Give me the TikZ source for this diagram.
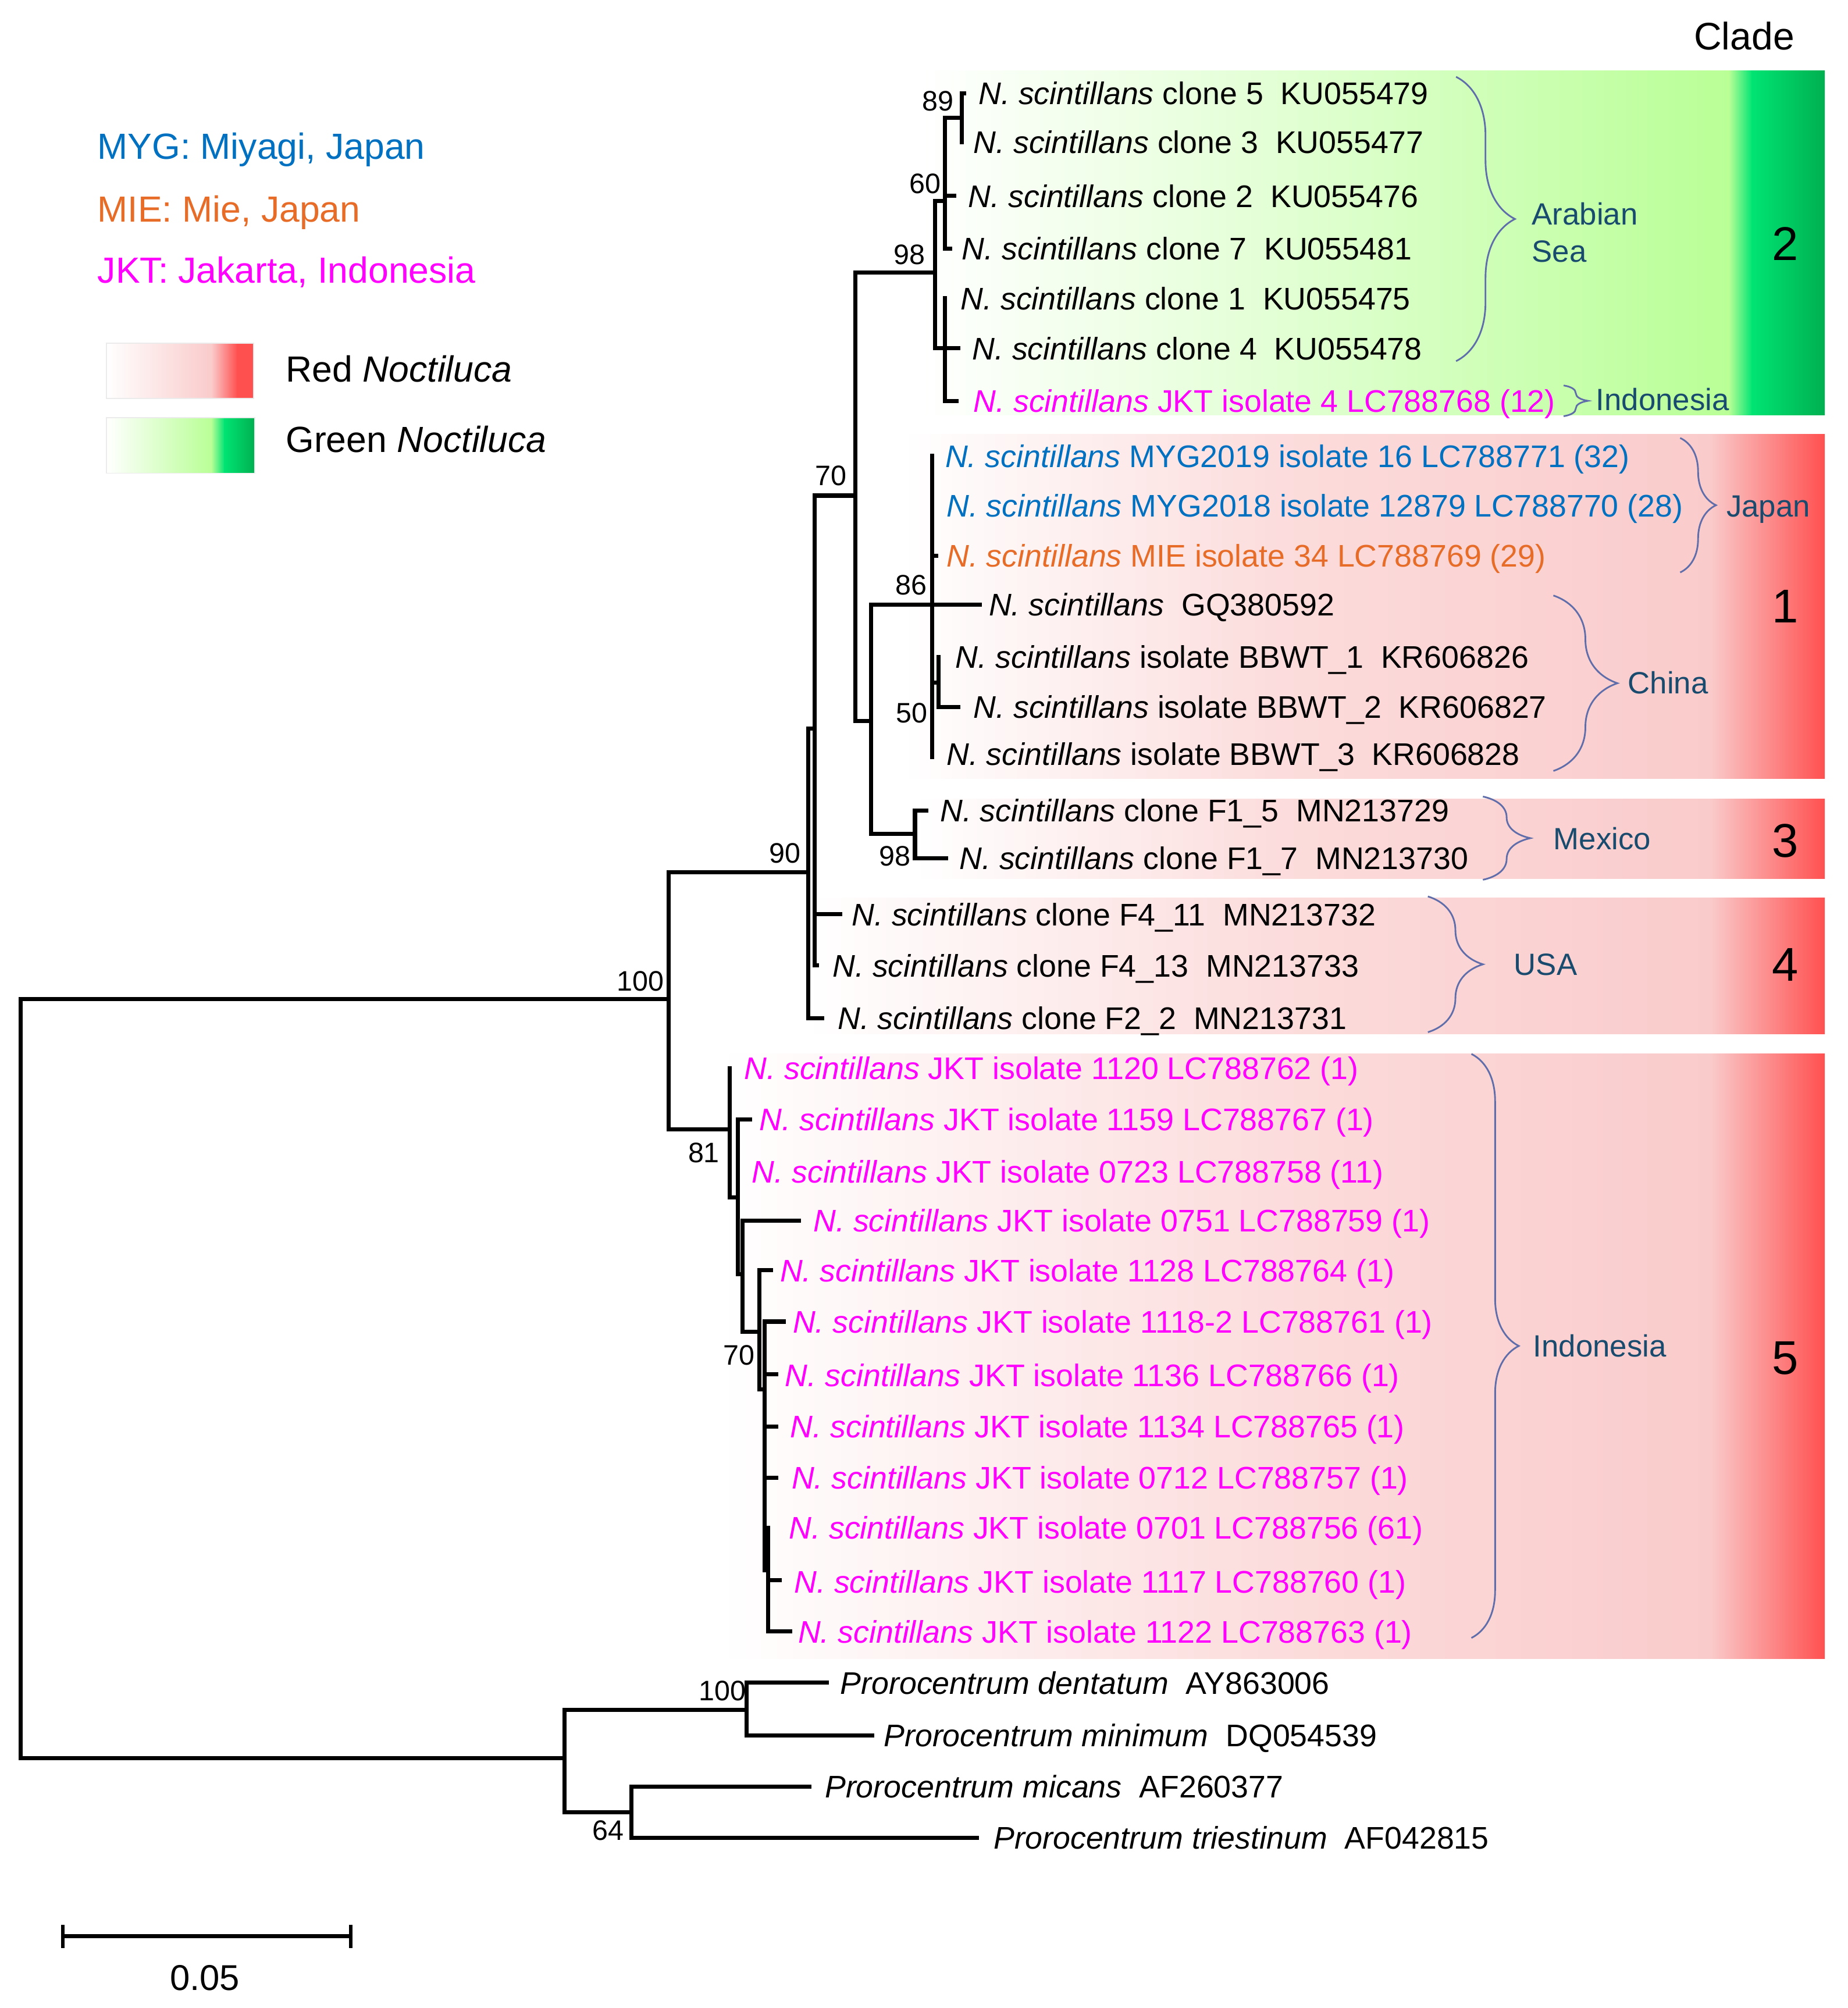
\documentclass[tikz,border=0pt]{standalone}
\usepackage{fontspec}
\setmainfont{Liberation Sans}
\usetikzlibrary{decorations.pathreplacing}
\definecolor{cMYG}{RGB}{0,112,192}
\definecolor{cMIE}{RGB}{230,108,40}
\definecolor{cJKT}{RGB}{255,0,255}
\definecolor{cGrp}{RGB}{25,75,110}
\definecolor{cBrace}{RGB}{95,110,170}
\definecolor{rA}{RGB}{252,220,220}
\definecolor{rB}{RGB}{250,203,203}
\definecolor{rC}{RGB}{255,80,80}
\definecolor{gA}{RGB}{226,255,212}
\definecolor{gB}{RGB}{185,255,150}
\definecolor{gC}{RGB}{0,228,115}
\definecolor{gD}{RGB}{0,176,80}
\newcommand\leaffont{\fontsize{24.4}{29}\selectfont}
\newcommand\bsfont{\fontsize{22}{26}\selectfont}
\newcommand\legfont{\fontsize{28.4}{34}\selectfont}
\newcommand\grpfont{\fontsize{24}{29}\selectfont}
\newcommand\cladenumfont{\fontsize{37}{44}\selectfont}
\newcommand\Nsc{\textit{N. scintillans}}
\newcommand\redband[3]{%
  \shade[left color=white, right color=rA] (#1,#2) rectangle (1000.5,#3);
  \shade[left color=rA, right color=rB] (1000,#2) rectangle (1335.5,#3);
  \shade[left color=rB, right color=rC] (1335,#2) rectangle (1425,#3);
}
\newcommand\greenband[3]{%
  \shade[left color=white, right color=gA] (#1,#2) rectangle (1000.5,#3);
  \shade[left color=gA, right color=gB] (1000,#2) rectangle (1350.5,#3);
  \shade[left color=gB, right color=gC] (1350,#2) rectangle (1368.5,#3);
  \shade[left color=gC, right color=gD] (1368,#2) rectangle (1425,#3);
}
\tikzset{
  branch/.style={line width=3.2pt, line cap=rect, line join=miter},
  leaf/.style={anchor=west, inner sep=0pt, font=\leaffont, text height=17.5pt, text depth=0pt},
  boot/.style={inner sep=0pt, font=\bsfont, text height=15.8pt, text depth=0pt},
  grp/.style={anchor=west, inner sep=0pt, font=\grpfont, text=cGrp, text height=17.2pt, text depth=0pt},
  brc/.style={draw=cBrace, line width=1.3pt, decorate, decoration={brace, amplitude=#1}},
  legtxt/.style={anchor=west, inner sep=0pt, font=\legfont, text height=20.3pt, text depth=0pt},
  cnum/.style={inner sep=0pt, font=\cladenumfont, text height=26.5pt, text depth=0pt},
}
\begin{document}
\begin{tikzpicture}[x=1pt,y=-1pt]
\useasboundingbox (0,0) rectangle (1443,1568);
% ---------- clade bands ----------
\greenband{720}{55}{324}
\redband{705}{339}{608}
\redband{715}{624}{686}
\redband{630}{701}{807.5}
\redband{563}{823}{1295}
% ---------- legend ----------
\node[legtxt, text=cMYG] (lgMYG) at (76,114) {MYG: Miyagi, Japan};
\node[legtxt, text=cMIE] (lgMIE) at (76,163) {MIE: Mie, Japan};
\node[legtxt, text=cJKT] (lgJKT) at (76,211) {JKT: Jakarta, Indonesia};
\shade[left color=white, right color=rB] (83,268) rectangle (165.5,311);
\shade[left color=rB, right color=rC] (165,268) rectangle (185.5,311);
\fill[rC] (185,268) rectangle (198,311);
\draw[black!8, line width=0.8pt] (83,268) rectangle (198,311);
\shade[left color=white, right color=gB] (83,326) rectangle (165.5,369.5);
\shade[left color=gB, right color=gC] (165,326) rectangle (175.5,369.5);
\shade[left color=gC, right color=gD] (175,326) rectangle (199,369.5);
\draw[black!8, line width=0.8pt] (83,326) rectangle (199,369.5);
\node[legtxt] (lgRed) at (223,288) {Red \textit{Noctiluca}};
\node[legtxt] (lgGreen) at (223,343) {Green \textit{Noctiluca}};
\node[inner sep=0pt, font=\fontsize{30}{36}\selectfont, text height=21.5pt, text depth=0pt] (cladeT) at (1362,28) {Clade};
% ---------- tree coordinates ----------
\coordinate (R) at (16,780);
\coordinate (n100) at (522,780);
\coordinate (nOut) at (441,1373);
\coordinate (n90) at (631,681);
\coordinate (n81) at (570,882);
\coordinate (nY) at (636,569);
\coordinate (n70) at (668,387);
\coordinate (n98) at (730,213);
\coordinate (n60) at (738,157);
\coordinate (n89) at (751,92);
\coordinate (nC) at (738,272);
\coordinate (nA) at (680,563);
\coordinate (n86) at (728,472);
\coordinate (nBB) at (733,533);
\coordinate (nMex) at (714.5,651);
\coordinate (nD) at (576,935);
\coordinate (nE) at (580,995);
\coordinate (nF) at (593,1040);
\coordinate (nG) at (597,1085);
\coordinate (nH) at (600,1226);
\coordinate (n100b) at (583,1335);
\coordinate (n64) at (493,1415);
% leaves
\coordinate (lc5) at (753,73);
\coordinate (lc3) at (751,111);
\coordinate (lc2) at (745,153);
\coordinate (lc7) at (742,194);
\coordinate (lc1) at (738,233);
\coordinate (lc4) at (748.5,272);
\coordinate (lJ4) at (747,313);
\coordinate (lM19) at (728,356);
\coordinate (lM18) at (728,395);
\coordinate (lMIE) at (731,434);
\coordinate (lGQ) at (765,472);
\coordinate (lB1) at (733,513);
\coordinate (lB2) at (748.5,552);
\coordinate (lB3) at (728,591);
\coordinate (lF15) at (723.5,633);
\coordinate (lF17) at (739,670);
\coordinate (lF411) at (656,714);
\coordinate (lF413) at (638,754);
\coordinate (lF22) at (642,795);
\coordinate (l1120) at (570,834);
\coordinate (l1159) at (585.5,874);
\coordinate (l0723) at (576,915);
\coordinate (l0751) at (624,953);
\coordinate (l1128) at (602,992);
\coordinate (l11182) at (612,1032);
\coordinate (l1136) at (606,1073);
\coordinate (l1134) at (606,1114);
\coordinate (l0712) at (606,1154);
\coordinate (l0701) at (600,1193);
\coordinate (l1117) at (609,1234);
\coordinate (l1122) at (617,1274);
\coordinate (lden) at (645.5,1314);
\coordinate (lmin) at (681,1355);
\coordinate (lmic) at (632,1395);
\coordinate (ltri) at (763,1435);
% ---------- branches ----------
\draw[branch] (R) |- (n100);
\draw[branch] (R) |- (nOut);
\draw[branch] (n100) |- (n90);
\draw[branch] (n100) |- (n81);
\draw[branch] (n90) |- (nY);
\draw[branch] (n90) |- (lF22);
\draw[branch] (nY) |- (n70);
\draw[branch] (nY) |- (lF411);
\draw[branch] (nY) |- (lF413);
\draw[branch] (n70) |- (n98);
\draw[branch] (n70) |- (nA);
\draw[branch] (n98) |- (n60);
\draw[branch] (n98) |- (nC);
\draw[branch] (n60) |- (n89);
\draw[branch] (n60) |- (lc2);
\draw[branch] (n60) |- (lc7);
\draw[branch] (n89) |- (lc5);
\draw[branch] (n89) |- (lc3);
\draw[branch] (nC) |- (lc1);
\draw[branch] (nC) |- (lc4);
\draw[branch] (nC) |- (lJ4);
\draw[branch] (nA) |- (n86);
\draw[branch] (nA) |- (nMex);
\draw[branch] (n86) |- (lM19);
\draw[branch] (n86) |- (lM18);
\draw[branch] (n86) |- (lMIE);
\draw[branch] (n86) |- (lGQ);
\draw[branch] (n86) |- (nBB);
\draw[branch] (n86) |- (lB3);
\draw[branch] (nBB) |- (lB1);
\draw[branch] (nBB) |- (lB2);
\draw[branch] (nMex) |- (lF15);
\draw[branch] (nMex) |- (lF17);
\draw[branch] (n81) |- (l1120);
\draw[branch] (n81) |- (nD);
\draw[branch] (nD) |- (l1159);
\draw[branch] (nD) |- (l0723);
\draw[branch] (nD) |- (nE);
\draw[branch] (nE) |- (l0751);
\draw[branch] (nE) |- (nF);
\draw[branch] (nF) |- (l1128);
\draw[branch] (nF) |- (nG);
\draw[branch] (nG) |- (l11182);
\draw[branch] (nG) |- (l1136);
\draw[branch] (nG) |- (l1134);
\draw[branch] (nG) |- (l0712);
\draw[branch] (nG) |- (nH);
\draw[branch] (nH) |- (l0701);
\draw[branch] (nH) |- (l1117);
\draw[branch] (nH) |- (l1122);
\draw[branch] (nOut) |- (n100b);
\draw[branch] (nOut) |- (n64);
\draw[branch] (n100b) |- (lden);
\draw[branch] (n100b) |- (lmin);
\draw[branch] (n64) |- (lmic);
\draw[branch] (n64) |- (ltri);
% ---------- bootstrap values ----------
\node[boot] (b89) at (732.5,78.5) {89};
\node[boot] (b60) at (722.5,143) {60};
\node[boot] (b98a) at (710,198.5) {98};
\node[boot] (b70a) at (649,371) {70};
\node[boot] (b86) at (711.7,456.5) {86};
\node[boot] (b50) at (712,556.6) {50};
\node[boot] (b98b) at (699,668) {98};
\node[boot] (b90) at (613,666) {90};
\node[boot] (b100a) at (500,766) {100};
\node[boot] (b81) at (549.6,900) {81};
\node[boot] (b70b) at (577,1058) {70};
\node[boot] (b100b) at (564,1320) {100};
\node[boot] (b64) at (475,1429) {64};
% ---------- leaf labels ----------
\node[leaf] (tc5) at (764,73) {\Nsc{} clone 5~~KU055479};
\node[leaf] (tc3) at (760,111) {\Nsc{} clone 3~~KU055477};
\node[leaf] (tc2) at (756,153) {\Nsc{} clone 2~~KU055476};
\node[leaf] (tc7) at (751,194) {\Nsc{} clone 7~~KU055481};
\node[leaf] (tc1) at (750,233) {\Nsc{} clone 1~~KU055475};
\node[leaf] (tc4) at (759,272) {\Nsc{} clone 4~~KU055478};
\node[leaf, text=cJKT] (tJ4) at (760,313) {\Nsc{} JKT isolate 4 LC788768 (12)};
\node[leaf, text=cMYG] (tM19) at (738,356) {\Nsc{} MYG2019 isolate 16 LC788771 (32)};
\node[leaf, text=cMYG] (tM18) at (739,395) {\Nsc{} MYG2018 isolate 12879 LC788770 (28)};
\node[leaf, text=cMIE] (tMIE) at (739,434) {\Nsc{} MIE isolate 34 LC788769 (29)};
\node[leaf] (tGQ) at (772,472) {\Nsc{}~~GQ380592};
\node[leaf] (tB1) at (746,513) {\Nsc{} isolate BBWT\_1~~KR606826};
\node[leaf] (tB2) at (760,552) {\Nsc{} isolate BBWT\_2~~KR606827};
\node[leaf] (tB3) at (739,589) {\Nsc{} isolate BBWT\_3~~KR606828};
\node[leaf] (tF15) at (734,633) {\Nsc{} clone F1\_5~~MN213729};
\node[leaf] (tF17) at (749,670) {\Nsc{} clone F1\_7~~MN213730};
\node[leaf] (tF411) at (665,714) {\Nsc{} clone F4\_11~~MN213732};
\node[leaf] (tF413) at (650,754) {\Nsc{} clone F4\_13~~MN213733};
\node[leaf] (tF22) at (654,795) {\Nsc{} clone F2\_2~~MN213731};
\node[leaf, text=cJKT] (t1120) at (581,834) {\Nsc{} JKT isolate 1120 LC788762 (1)};
\node[leaf, text=cJKT] (t1159) at (593,874) {\Nsc{} JKT isolate 1159 LC788767 (1)};
\node[leaf, text=cJKT] (t0723) at (587,915) {\Nsc{} JKT isolate 0723 LC788758 (11)};
\node[leaf, text=cJKT] (t0751) at (635,953) {\Nsc{} JKT isolate 0751 LC788759 (1)};
\node[leaf, text=cJKT] (t1128) at (609,992) {\Nsc{} JKT isolate 1128 LC788764 (1)};
\node[leaf, text=cJKT] (t11182) at (619,1032) {\Nsc{} JKT isolate 1118-2 LC788761 (1)};
\node[leaf, text=cJKT] (t1136) at (613,1074) {\Nsc{} JKT isolate 1136 LC788766 (1)};
\node[leaf, text=cJKT] (t1134) at (617,1114) {\Nsc{} JKT isolate 1134 LC788765 (1)};
\node[leaf, text=cJKT] (t0712) at (618,1154) {\Nsc{} JKT isolate 0712 LC788757 (1)};
\node[leaf, text=cJKT] (t0701) at (616,1193) {\Nsc{} JKT isolate 0701 LC788756 (61)};
\node[leaf, text=cJKT] (t1117) at (620,1235) {\Nsc{} JKT isolate 1117 LC788760 (1)};
\node[leaf, text=cJKT] (t1122) at (623,1274) {\Nsc{} JKT isolate 1122 LC788763 (1)};
\node[leaf] (tden) at (656,1314) {\textit{Prorocentrum dentatum}~~AY863006};
\node[leaf] (tmin) at (690,1355) {\textit{Prorocentrum minimum}~~DQ054539};
\node[leaf] (tmic) at (644,1395) {\textit{Prorocentrum micans}~~AF260377};
\node[leaf] (ttri) at (776,1435) {\textit{Prorocentrum triestinum}~~AF042815};
% ---------- braces and group labels ----------
\coordinate (brAt) at (1137,60);   \coordinate (brAb) at (1137,282);
\coordinate (brIt) at (1221,301);  \coordinate (brIb) at (1221,325);
\coordinate (brJt) at (1312,342);  \coordinate (brJb) at (1312,447);
\coordinate (brCt) at (1213,465);  \coordinate (brCb) at (1213,602);
\coordinate (brMt) at (1158,622);  \coordinate (brMb) at (1158,687);
\coordinate (brUt) at (1115,700);  \coordinate (brUb) at (1115,806);
\coordinate (brKt) at (1149,823);  \coordinate (brKb) at (1149,1279);
\draw[brc=46] (brAt) -- (brAb);
\draw[brc=19] (brIt) -- (brIb);
\draw[brc=28] (brJt) -- (brJb);
\draw[brc=50] (brCt) -- (brCb);
\draw[brc=37] (brMt) -- (brMb);
\draw[brc=43] (brUt) -- (brUb);
\draw[brc=37] (brKt) -- (brKb);
\node[grp] (gA1) at (1196,167) {Arabian};
\node[grp] (gA2) at (1196,196) {Sea};
\node[grp] (gI1) at (1246,312) {Indonesia};
\node[grp] (gJ) at (1348,395) {Japan};
\node[grp] (gC) at (1271,533) {China};
\node[grp] (gM) at (1213,655) {Mexico};
\node[grp] (gU) at (1182,753) {USA};
\node[grp] (gI5) at (1197,1051) {Indonesia};
% ---------- clade numbers ----------
\node[cnum] (c2) at (1394,190) {2};
\node[cnum] (c1) at (1394,473) {1};
\node[cnum] (c3) at (1394,656) {3};
\node[cnum] (c4) at (1394,753) {4};
\node[cnum] (c5) at (1394,1060) {5};
% ---------- scale bar ----------
\coordinate (sbL) at (49,1512);  \coordinate (sbR) at (274,1512);
\coordinate (sbLt) at (49,1503); \coordinate (sbLb) at (49,1521);
\coordinate (sbRt) at (274,1503); \coordinate (sbRb) at (274,1521);
\draw[line width=3.2pt] (sbL) -- (sbR);
\draw[line width=2.5pt] (sbLt) -- (sbLb);
\draw[line width=2.5pt] (sbRt) -- (sbRb);
\node[inner sep=0pt, font=\fontsize{28}{34}\selectfont, text height=20pt, text depth=0pt] (sbT) at (160,1544) {0.05};
\end{tikzpicture}
\end{document}
